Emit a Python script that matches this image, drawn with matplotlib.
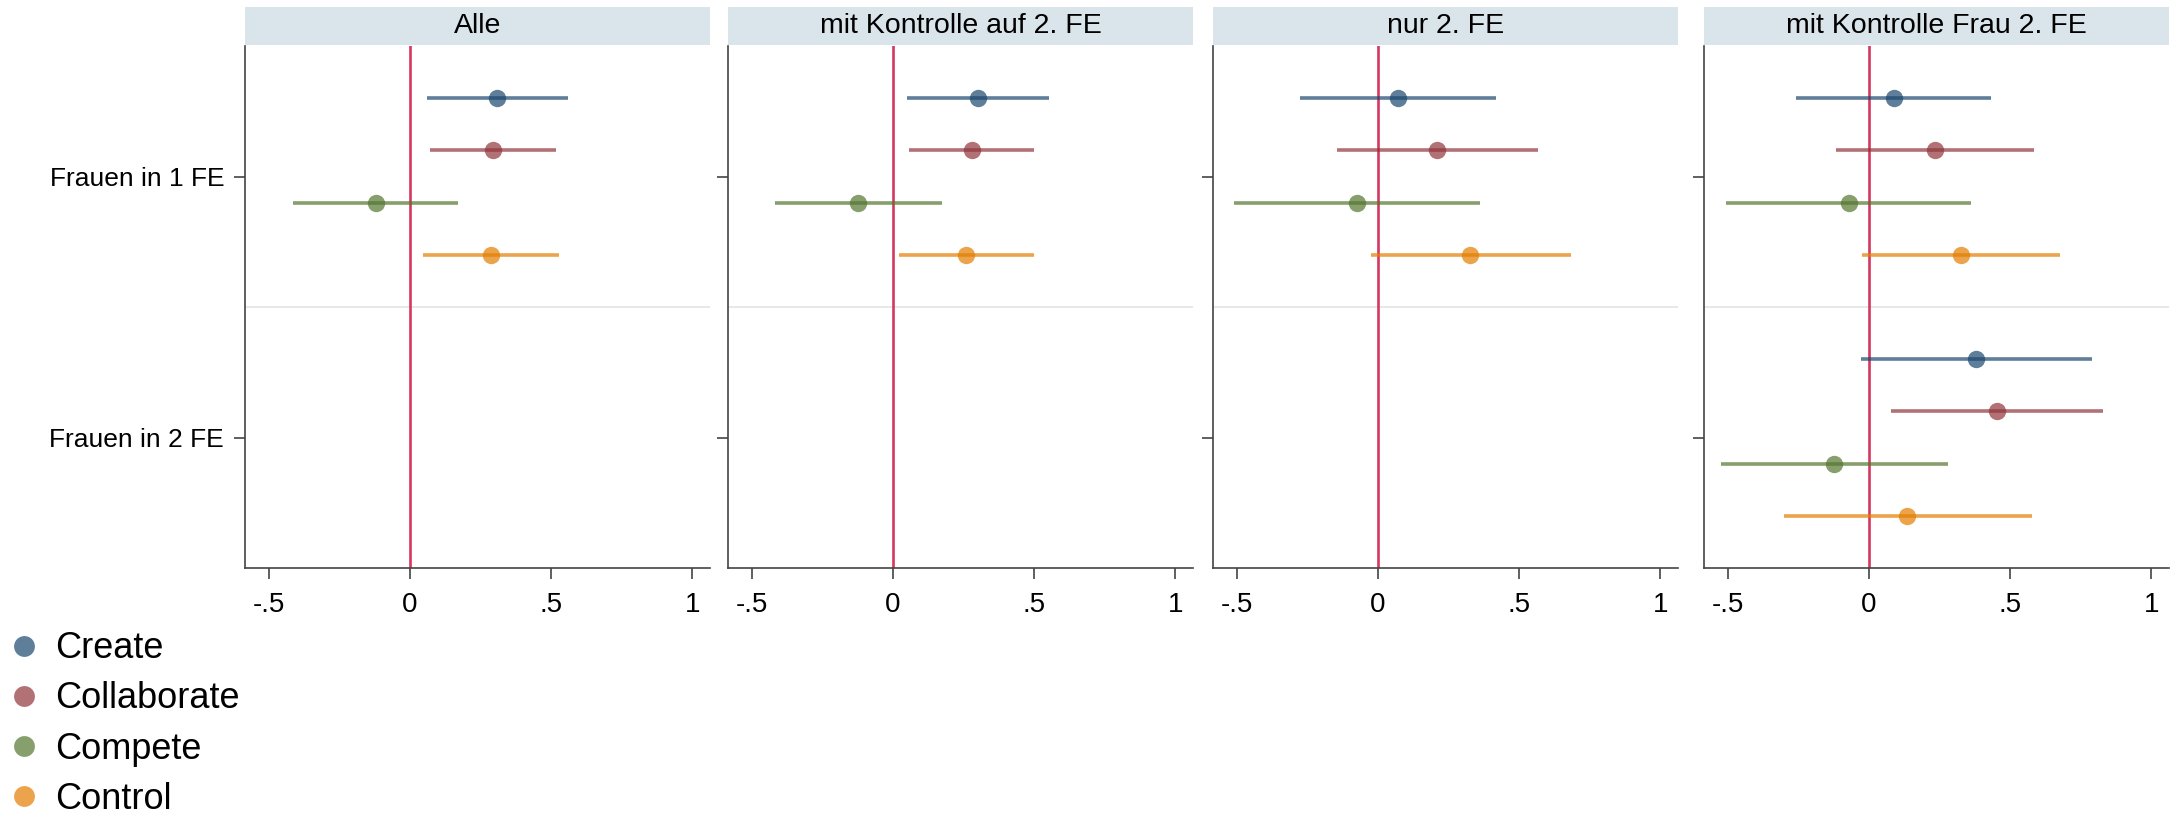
import numpy as np
import matplotlib.pyplot as plt
from matplotlib.lines import Line2D

plt.rcParams['font.family'] = ['Liberation Sans', 'DejaVu Sans']

panels = ['Alle', 'mit Kontrolle auf 2. FE', 'nur 2. FE', 'mit Kontrolle Frau 2. FE']
groups = ['Frauen in 1 FE', 'Frauen in 2 FE']
series = ['Create', 'Collaborate', 'Compete', 'Control']
colors = ['#1a476f', '#90353b', '#55752f', '#e37e00']

# point estimates, per panel: [group 1 (4 series), group 2 (4 series)]
est = [
    [[0.309, 0.294, -0.121, 0.287], [np.nan] * 4],
    [[0.301, 0.280, -0.124, 0.259], [np.nan] * 4],
    [[0.071, 0.209, -0.074, 0.326], [np.nan] * 4],
    [[0.089, 0.232, -0.071, 0.326], [0.379, 0.453, -0.124, 0.136]],
]
lo = [
    [[0.060, 0.071, -0.415, 0.046], [np.nan] * 4],
    [[0.050, 0.057, -0.418, 0.021], [np.nan] * 4],
    [[-0.277, -0.145, -0.511, -0.025], [np.nan] * 4],
    [[-0.258, -0.118, -0.506, -0.026], [-0.030, 0.078, -0.524, -0.301]],
]
hi = [
    [[0.560, 0.518, 0.170, 0.528], [np.nan] * 4],
    [[0.553, 0.500, 0.174, 0.500], [np.nan] * 4],
    [[0.418, 0.567, 0.362, 0.684], [np.nan] * 4],
    [[0.433, 0.583, 0.363, 0.677], [0.790, 0.830, 0.278, 0.576]],
]
xticks = [-0.5, 0, 0.5, 1]
xticklabels = ['-.5', '0', '.5', '1']

W, H = 2172, 818
fig = plt.figure(figsize=(W / 100, H / 100), dpi=100)

lefts = [245, 728, 1213, 1704]
pw = 465
top, bottom = 46, 568
hdr_top = 7
alpha = 0.7

for p, name in enumerate(panels):
    ax = fig.add_axes([lefts[p] / W, 1 - bottom / H, pw / W, (bottom - top) / H])
    hd = fig.add_axes([lefts[p] / W, 1 - (top - 1) / H, pw / W, (top - 1 - hdr_top) / H])
    hd.set_facecolor('#d9e5eb')
    hd.set_xticks([])
    hd.set_yticks([])
    for s in hd.spines.values():
        s.set_visible(False)
    hd.text(0.5, 0.5, name, ha='center', va='center', fontsize=20.5, color='black',
            transform=hd.transAxes)

    for g in range(2):
        for k in range(4):
            y = g * 5 + k + 1
            if np.isnan(est[p][g][k]):
                continue
            ax.plot([lo[p][g][k], hi[p][g][k]], [y, y], color=colors[k], lw=2.6,
                    alpha=alpha, solid_capstyle='butt', zorder=3)
            ax.plot(est[p][g][k], y, 'o', color=colors[k], ms=12.5, mew=0,
                    alpha=alpha, zorder=4)

    ax.axvline(0, color='#d6365f', lw=1.9, zorder=2)
    ax.axhline(5, color='#e4e4e4', lw=1.2, zorder=1)

    ax.set_xlim(-0.585, 1.063)
    ax.set_ylim(10, 0)
    ax.set_xticks(xticks)
    ax.set_xticklabels(xticklabels, fontsize=20)
    ax.set_yticks([2.5, 7.5])
    if p == 0:
        ax.set_yticklabels(groups, fontsize=19)
    else:
        ax.set_yticklabels([])
    ax.tick_params(axis='both', direction='out', length=8, width=1.2,
                   color='#444444', pad=7)
    ax.tick_params(axis='x', pad=9)
    ax.spines['top'].set_visible(False)
    ax.spines['right'].set_visible(False)
    ax.spines['left'].set_color('#444444')
    ax.spines['bottom'].set_color('#444444')
    ax.spines['left'].set_linewidth(1.2)
    ax.spines['bottom'].set_linewidth(1.2)

handles = [Line2D([], [], ls='none', marker='o', ms=15, mew=0, color=c, alpha=alpha)
           for c in colors]
fig.legend(handles, series, loc='upper left', bbox_to_anchor=(0.0, 1 - 624 / H),
           frameon=False, fontsize=26, handletextpad=0.39, labelspacing=0.42,
           borderaxespad=0, handlelength=0.94, borderpad=0.2)

fig.savefig('out.png', dpi=100, facecolor='white')
